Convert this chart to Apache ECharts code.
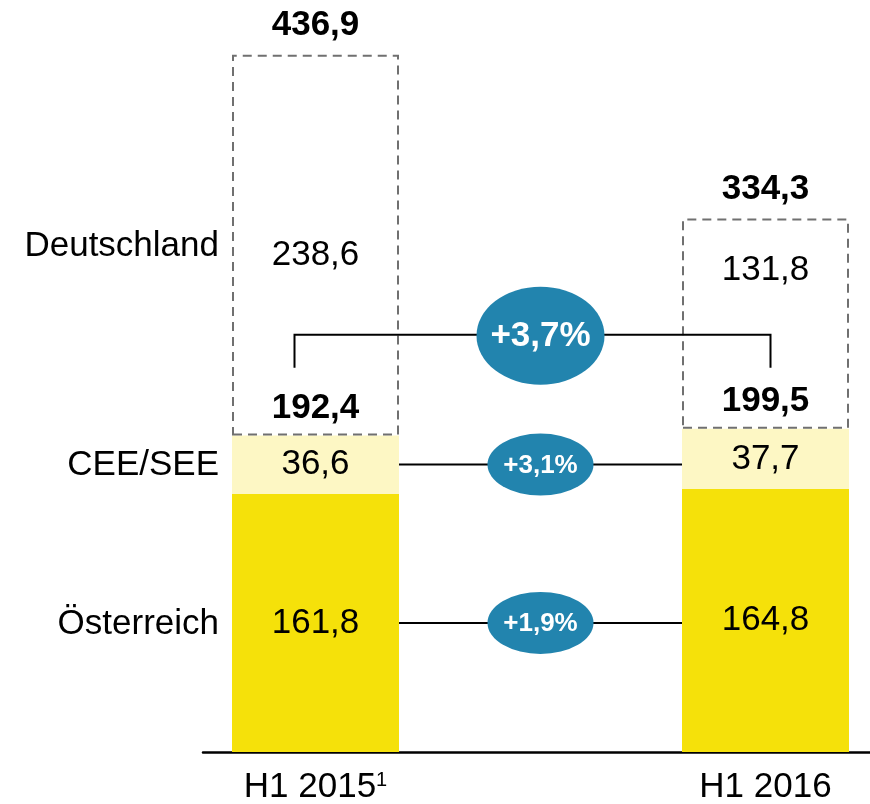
<!DOCTYPE html>
<html lang="de">
<head>
<meta charset="UTF-8">
<title>Umsatz H1 2015 / H1 2016</title>
<style>html,body{margin:0;padding:0;background:#fff;}</style>
</head>
<body>
<div id="main" style="width:870px;height:804px;"></div>
<script src="https://cdn.jsdelivr.net/npm/echarts@6/dist/echarts.min.js"></script>
<script>
// Daten
var periods = ['H1 2015', 'H1 2016'];
var footnotes = ['1', ''];
var regions = ['Österreich', 'CEE/SEE', 'Deutschland'];
var oesterreich = [161.8, 164.8];
var ceeSee = [36.6, 37.7];
var deutschland = [238.6, 131.8];
var subtotal = [192.4, 199.5];
var total = [436.9, 334.3];
var growth = ['+1,9%', '+3,1%', '+3,7%'];

// Layout
var FONT = '"Liberation Sans", Arial, sans-serif';
var FS = 35;
var barWidth = 167;
var yellow = '#f5e10a';
var lightYellow = '#fdf7c4';
var blue = '#2284ae';
var bracketValue = 261.5;    // Hoehe der Klammer (in Achseneinheiten)
var deLabelOffset = [178, 29];

function fmt(v) { return v.toFixed(1).replace('.', ','); }
// Leerspalte zwischen den beiden Balken
function spaced(arr) { return [arr[0], '-', arr[1]]; }
function idx(dataIndex) { return dataIndex / 2; }

var chart = echarts.init(document.getElementById('main'));

var option = {
	animation: false,
	backgroundColor: '#fff',
	grid: { left: 203, top: 2, width: 675, height: 750, outerBoundsMode: 'none' },
	xAxis: {
		type: 'category',
		data: [periods[0], '', periods[1]],
		axisLine: { lineStyle: { color: '#000', width: 2.5 } },
		axisTick: { show: false },
		axisLabel: {
			margin: 18,
			color: '#000',
			fontFamily: FONT,
			fontSize: FS,
			formatter: function (value, i) {
				var k = periods.indexOf(value);
				if (k >= 0 && footnotes[k]) return value + '{sup|' + footnotes[k] + '}';
				return value;
			},
			rich: {
				sup: { fontFamily: FONT, fontSize: 20, color: '#000', verticalAlign: 'top', padding: [0, 0, 14, 0] }
			}
		}
	},
	yAxis: { type: 'value', min: 0, max: 470, show: false },
	series: [
		{
			name: regions[0], type: 'bar', stack: 'a', barWidth: barWidth,
			data: spaced(oesterreich),
			itemStyle: { color: yellow },
			label: {
				show: true, position: 'inside', color: '#000', fontFamily: FONT, fontSize: FS,
				formatter: function (p) { return fmt(oesterreich[idx(p.dataIndex)]); }
			}
		},
		{
			name: regions[1], type: 'bar', stack: 'a', barWidth: barWidth,
			data: spaced(ceeSee),
			itemStyle: { color: lightYellow },
			label: {
				show: true, position: 'inside', color: '#000', fontFamily: FONT, fontSize: FS,
				formatter: function (p) { return fmt(ceeSee[idx(p.dataIndex)]); }
			}
		},
		{
			name: 'Zwischensumme', type: 'bar', stack: 'a', barWidth: barWidth,
			data: spaced([0, 0]),
			itemStyle: { color: 'rgba(0,0,0,0)' },
			label: {
				show: true, position: 'top', distance: 10, color: '#000', fontFamily: FONT,
				fontSize: FS, fontWeight: 'bold',
				formatter: function (p) { return fmt(subtotal[idx(p.dataIndex)]); }
			}
		},
		{
			name: regions[2], type: 'bar', stack: 'a', barWidth: barWidth,
			data: spaced(deutschland).map(function (v, i) {
				if (v === '-') return v;
				return { value: v, label: { offset: [0, deLabelOffset[i / 2]] } };
			}),
			itemStyle: { color: 'rgba(0,0,0,0)', borderColor: '#707070', borderWidth: 2, borderType: [9, 6] },
			label: {
				show: true, position: 'insideTop', color: '#000', fontFamily: FONT, fontSize: FS,
				formatter: function (p) { return fmt(deutschland[idx(p.dataIndex)]); }
			}
		},
		{
			name: 'Gesamt', type: 'bar', stack: 'a', barWidth: barWidth,
			data: spaced([0, 0]),
			itemStyle: { color: 'rgba(0,0,0,0)' },
			label: {
				show: true, position: 'top', distance: 12, color: '#000', fontFamily: FONT,
				fontSize: FS, fontWeight: 'bold',
				formatter: function (p) { return fmt(total[idx(p.dataIndex)]); }
			}
		}
	]
};
chart.setOption(option);

// Beschriftungen links, Verbindungslinien und Wachstums-Ovale
function px(i, v) { return chart.convertToPixel({ gridIndex: 0 }, [i, v]); }
function oval(cx, cy, rx, ry, text, size) {
	return [
		{ type: 'circle', x: cx, y: cy, scaleY: ry / rx, shape: { cx: 0, cy: 0, r: rx }, style: { fill: blue }, z: 20 },
		{ type: 'text', x: cx, y: cy + 1, z: 21,
			style: { text: text, fill: '#fff', font: 'bold ' + size + 'px ' + FONT,
				align: 'center', verticalAlign: 'middle', textAlign: 'center', textVerticalAlign: 'middle' } }
	];
}

var leftX = px(0, 0)[0], rightX = px(2, 0)[0];
var half = barWidth / 2, midX = (leftX + rightX) / 2;
var segs = [oesterreich, ceeSee, deutschland];
var els = [];
var base = 0;
segs.forEach(function (s, k) {
	var y = (px(0, base)[1] + px(0, base + s[0])[1]) / 2;
	base += s[0];
	els.push({ type: 'text', x: leftX - half - 13, y: y + 1, z: 10,
		style: { text: regions[k], fill: '#000', font: FS + 'px ' + FONT,
			align: 'right', verticalAlign: 'middle', textAlign: 'right', textVerticalAlign: 'middle' } });
	if (k < 2) {
		els.push({ type: 'line', z: 10, shape: { x1: leftX + half, y1: y, x2: rightX - half, y2: y },
			style: { stroke: '#000', lineWidth: 2 } });
		els = els.concat(oval(midX, y, 53, 31, growth[k], 26));
	}
});
var yb = px(0, bracketValue)[1];
els.push({ type: 'polyline', z: 10,
	shape: { points: [[leftX - 21, yb + 33], [leftX - 21, yb], [rightX + 5, yb], [rightX + 5, yb + 33]] },
	style: { stroke: '#000', lineWidth: 2, fill: null } });
els = els.concat(oval(midX, yb + 1, 64, 49, growth[2], 35));

chart.setOption({ graphic: { elements: els } });
</script>
</body>
</html>
